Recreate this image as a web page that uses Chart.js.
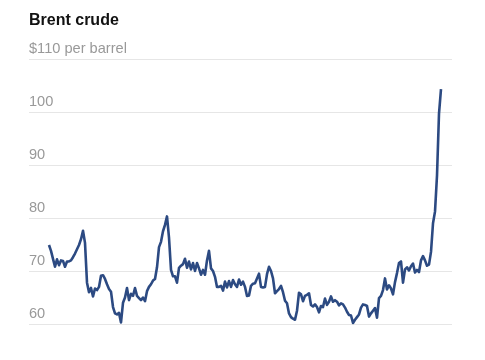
<!DOCTYPE html>
<html>
<head>
<meta charset="utf-8">
<script src="https://cdn.jsdelivr.net/npm/chart.js@4"></script>
<style>
  body { margin: 0; background: #fff; }
  #wrap { position: relative; width: 485px; height: 360px; }
  #title {
    position: absolute; left: 29px; top: 10px;
    font: bold 16px "Liberation Sans", Arial, sans-serif; line-height: 20px;
    color: #121212;
  }
</style>
</head>
<body>
<div id="wrap">
  <div id="title">Brent crude</div>
  <canvas id="chart"></canvas>
</div>
<script>
// Brent crude price, $ per barrel, one value per step
var prices = [
    74.9, 73.8, 72.3, 70.8, 72.2, 71.1, 72.0, 71.9, 70.8, 71.8,
    71.8, 72.0, 72.6, 73.3, 74.1, 74.9, 76.0, 77.6, 75.3, 67.8,
    66.0, 66.8, 65.2, 66.7, 66.4, 67.0, 69.1, 69.2, 68.5, 67.5,
    66.6, 66.1, 63.2, 62.0, 61.8, 62.1, 60.3, 64.0, 65.0, 66.8,
    64.5, 65.7, 65.3, 66.8, 65.3, 64.9, 64.5, 65.0, 64.3, 66.2,
    67.0, 67.5, 68.2, 68.5, 70.7, 74.5, 75.5, 77.5, 78.7, 80.3,
    76.3, 70.2, 69.0, 69.0, 67.8, 70.6, 71.0, 71.3, 72.3, 70.6,
    71.8, 70.3, 71.5, 70.0, 71.5, 70.5, 69.3, 70.2, 69.3, 72.0,
    73.8, 70.5, 70.0, 68.9, 67.0, 67.0, 67.2, 66.3, 68.0, 66.9,
    68.1, 67.0, 68.3, 67.5, 67.0, 68.4, 67.4, 68.0, 67.0, 65.3,
    65.4, 67.2, 67.6, 67.7, 68.6, 69.5, 67.0, 66.9, 67.0, 69.4,
    70.8, 70.0, 68.6, 65.8, 66.2, 66.6, 67.2, 66.0, 64.4, 63.9,
    62.0, 61.3, 61.0, 60.8, 62.5, 65.9, 65.6, 64.3, 65.3, 65.5,
    65.8, 63.6, 63.3, 63.7, 63.2, 62.2, 63.4, 63.2, 64.8, 63.6,
    64.2, 65.2, 64.2, 64.5, 64.2, 63.5, 63.9, 63.7, 63.1, 62.3,
    61.7, 61.6, 60.2, 60.8, 61.3, 61.8, 63.1, 63.7, 63.6, 63.4,
    61.4, 62.0, 62.5, 63.0, 61.2, 64.9, 65.3, 66.4, 68.6, 66.5,
    67.3, 66.7, 65.6, 67.9, 69.6, 71.5, 71.8, 67.8, 70.3, 70.7,
    70.1, 70.9, 71.4, 69.7, 70.2, 69.8, 72.0, 72.8, 72.0, 71.0,
    71.2, 73.6, 79.0, 81.2, 88.0, 99.7, 104.3
];

var yTicks = [60, 70, 80, 90, 100, 110];
var topLabel = '$110 per barrel';

var points = prices.map(function(v, i) {
    return { x: i, y: v };
});

var ctx = document.getElementById('chart').getContext('2d');
var myChart = new Chart(ctx, {
    type: 'line',
    data: {
        datasets: [{
            data: points,
            borderColor: '#2c4a82',
            borderWidth: 2.6,
            borderJoinStyle: 'round',
            pointRadius: 0,
            tension: 0,
            fill: false
        }]
    },
    options: {
        responsive: true,
        maintainAspectRatio: false,
        animation: false,
        layout: {
            padding: { left: 29, right: 33, top: 59, bottom: 30.7 }
        },
        plugins: {
            legend: { display: false },
            tooltip: { enabled: false }
        },
        scales: {
            x: {
                type: 'linear',
                display: false,
                min: -10,
                max: 201.5
            },
            y: {
                position: 'left',
                min: 59,
                max: 110,
                afterBuildTicks: function(scale) {
                    scale.ticks = yTicks.map(function(v) { return { value: v }; });
                },
                border: { display: false },
                grid: {
                    color: '#e6e6e6',
                    lineWidth: 1,
                    drawTicks: false
                },
                ticks: {
                    mirror: true,
                    padding: 0,
                    labelOffset: -10,
                    color: '#999999',
                    font: { family: '"Liberation Sans", Arial, sans-serif', size: 14.6 },
                    callback: function(value) {
                        return value === 110 ? topLabel : value;
                    }
                }
            }
        }
    }
});
</script>
</body>
</html>
